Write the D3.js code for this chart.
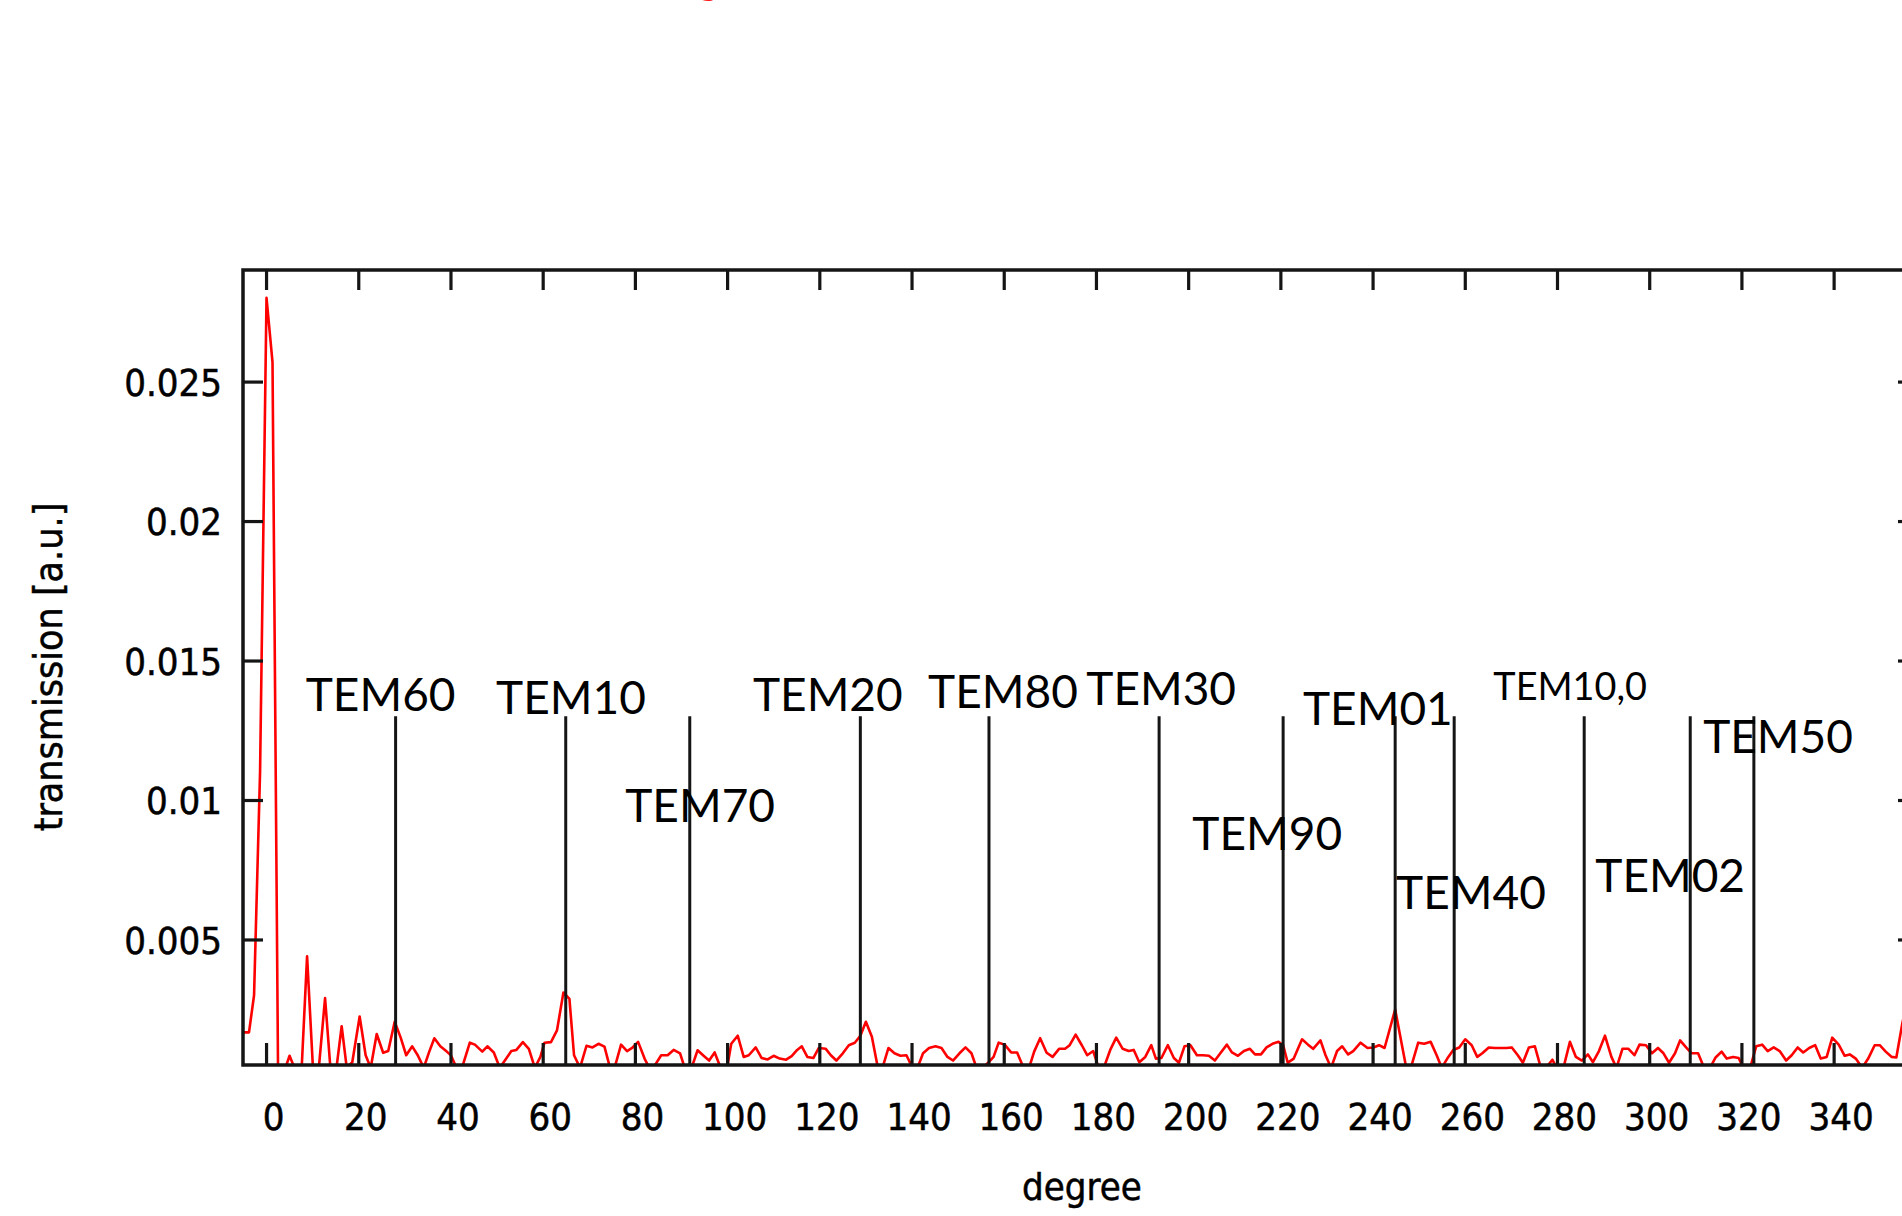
<!DOCTYPE html>
<html>
<head>
<meta charset="utf-8">
<script src="https://cdn.jsdelivr.net/npm/d3@7"></script>
<style>
    body { margin: 0; background: #fff; }
    svg { display: block; background: #fff; }
</style>
</head>
<body>
<svg width="1902" height="1216"></svg>
<script>
// transmission scan (degree, a.u.)
const degrees = [
    -5.0, -3.7, -2.6, -1.3, 0.1, 1.4, 2.6, 4.0, 5.1, 6.4, 7.7, 8.9, 10.2, 11.4, 12.8, 14.0, 15.2, 16.4, 17.5, 18.7,
    20.3, 21.6, 22.7, 24.0, 25.4, 26.5, 27.9, 29.2, 30.4, 31.7, 32.9, 34.2, 35.4, 36.5, 37.8, 39.2, 40.1, 41.3, 42.5, 44.2,
    45.3, 46.9, 48.0, 49.4, 50.7, 51.8, 53.2, 54.3, 55.7, 57.0, 58.3, 59.5, 60.4, 61.8, 63.1, 64.5, 65.8, 66.8, 68.1, 69.5,
    70.8, 72.1, 73.4, 74.6, 75.6, 77.0, 78.3, 79.4, 80.7, 82.1, 83.1, 84.0, 85.7, 87.1, 88.4, 89.8, 90.8, 92.3, 93.6, 94.9,
    96.1, 97.3, 98.6, 100.0, 100.9, 102.3, 103.6, 104.7, 106.2, 107.5, 108.8, 110.1, 111.4, 112.8, 114.0, 115.2, 116.2, 117.4, 118.7, 119.9,
    121.4, 122.5, 123.7, 125.1, 126.4, 127.7, 128.9, 130.1, 131.4, 132.7, 133.7, 135.0, 136.3, 137.6, 138.9, 140.2, 141.3, 142.5, 143.8, 145.2,
    146.5, 147.8, 149.0, 150.4, 151.7, 153.0, 154.1, 155.5, 156.6, 157.8, 158.9, 160.2, 161.6, 162.9, 164.3, 165.5, 166.6, 167.9, 169.3, 170.6,
    172.0, 173.3, 174.3, 175.6, 177.0, 178.1, 179.4, 180.6, 181.7, 183.1, 184.4, 185.8, 187.1, 188.2, 189.4, 190.7, 192.0, 193.0, 194.2, 195.6,
    196.9, 198.0, 199.2, 200.5, 201.9, 203.2, 204.5, 205.8, 207.1, 208.4, 209.5, 210.8, 212.1, 213.4, 214.5, 215.8, 217.0, 218.3, 219.6, 220.6,
    221.6, 222.9, 224.7, 226.0, 227.1, 228.7, 229.8, 231.0, 232.3, 233.4, 234.7, 235.8, 237.4, 238.9, 240.2, 241.4, 242.6, 244.9, 247.3, 248.3,
    249.9, 251.2, 252.6, 253.9, 255.0, 256.2, 257.5, 258.8, 260.1, 261.5, 262.7, 263.8, 265.2, 266.5, 267.8, 269.0, 270.2, 271.5, 272.6, 273.9,
    275.2, 276.5, 277.6, 279.0, 279.9, 281.4, 282.8, 284.1, 285.4, 286.7, 287.8, 289.1, 290.4, 291.8, 292.9, 294.2, 295.5, 296.8, 297.9, 299.3,
    300.6, 301.9, 303.1, 304.3, 305.6, 306.7, 308.0, 309.2, 310.6, 311.9, 313.2, 314.4, 315.7, 316.8, 318.2, 319.4, 320.4, 321.9, 323.2, 324.5,
    325.7, 327.0, 328.3, 329.7, 330.9, 332.2, 333.4, 334.7, 336.0, 337.2, 338.5, 339.7, 341.1, 342.4, 343.5, 344.8, 346.2, 347.5, 348.9, 350.0,
    351.3, 352.6, 353.6, 354.9, 356.2
];
const transmission = [
    0.00167, 0.00167, 0.00300, 0.01100, 0.02800, 0.02570, 0.00030, 0.00030, 0.00083, 0.00030, 0.00030, 0.00440, 0.00030, 0.00030, 0.00290, 0.00030, 0.00030, 0.00189, 0.00040, 0.00060,
    0.00224, 0.00085, 0.00040, 0.00161, 0.00094, 0.00100, 0.00205, 0.00148, 0.00085, 0.00117, 0.00085, 0.00040, 0.00098, 0.00146, 0.00117, 0.00098, 0.00085, 0.00040, 0.00040, 0.00130,
    0.00123, 0.00098, 0.00117, 0.00095, 0.00040, 0.00066, 0.00100, 0.00104, 0.00132, 0.00108, 0.00040, 0.00079, 0.00130, 0.00132, 0.00174, 0.00310, 0.00287, 0.00085, 0.00040, 0.00119,
    0.00113, 0.00126, 0.00116, 0.00040, 0.00040, 0.00123, 0.00100, 0.00111, 0.00133, 0.00073, 0.00040, 0.00040, 0.00085, 0.00085, 0.00104, 0.00092, 0.00040, 0.00040, 0.00103, 0.00083,
    0.00066, 0.00095, 0.00040, 0.00040, 0.00126, 0.00155, 0.00079, 0.00085, 0.00113, 0.00075, 0.00070, 0.00083, 0.00073, 0.00069, 0.00082, 0.00104, 0.00117, 0.00079, 0.00075, 0.00111,
    0.00108, 0.00085, 0.00066, 0.00092, 0.00121, 0.00130, 0.00155, 0.00205, 0.00151, 0.00040, 0.00040, 0.00111, 0.00092, 0.00083, 0.00085, 0.00040, 0.00040, 0.00092, 0.00111, 0.00117,
    0.00111, 0.00079, 0.00066, 0.00092, 0.00113, 0.00092, 0.00040, 0.00040, 0.00058, 0.00079, 0.00130, 0.00123, 0.00095, 0.00095, 0.00040, 0.00040, 0.00098, 0.00146, 0.00094, 0.00079,
    0.00108, 0.00108, 0.00121, 0.00159, 0.00119, 0.00085, 0.00100, 0.00040, 0.00040, 0.00104, 0.00148, 0.00108, 0.00100, 0.00104, 0.00060, 0.00079, 0.00121, 0.00073, 0.00075, 0.00121,
    0.00075, 0.00058, 0.00117, 0.00121, 0.00085, 0.00085, 0.00083, 0.00066, 0.00095, 0.00123, 0.00095, 0.00083, 0.00100, 0.00108, 0.00088, 0.00088, 0.00113, 0.00126, 0.00133, 0.00121,
    0.00058, 0.00073, 0.00142, 0.00123, 0.00108, 0.00138, 0.00085, 0.00040, 0.00100, 0.00117, 0.00088, 0.00100, 0.00130, 0.00111, 0.00113, 0.00121, 0.00111, 0.00249, 0.00040, 0.00040,
    0.00130, 0.00126, 0.00133, 0.00085, 0.00040, 0.00073, 0.00104, 0.00113, 0.00142, 0.00121, 0.00079, 0.00092, 0.00113, 0.00111, 0.00111, 0.00111, 0.00113, 0.00085, 0.00058, 0.00113,
    0.00117, 0.00040, 0.00040, 0.00069, 0.00040, 0.00040, 0.00133, 0.00079, 0.00066, 0.00088, 0.00060, 0.00100, 0.00155, 0.00079, 0.00040, 0.00108, 0.00108, 0.00085, 0.00123, 0.00121,
    0.00092, 0.00111, 0.00092, 0.00058, 0.00092, 0.00138, 0.00113, 0.00092, 0.00092, 0.00040, 0.00040, 0.00077, 0.00098, 0.00073, 0.00079, 0.00075, 0.00040, 0.00040, 0.00117, 0.00123,
    0.00100, 0.00113, 0.00100, 0.00066, 0.00085, 0.00113, 0.00095, 0.00111, 0.00121, 0.00073, 0.00079, 0.00148, 0.00123, 0.00083, 0.00088, 0.00073, 0.00040, 0.00073, 0.00121, 0.00121,
    0.00098, 0.00079, 0.00077, 0.00199, 0.00300
];

// mode markers (vertical lines) and their labels
const modeDegrees = [28.1, 65.0, 91.9, 128.9, 156.8, 193.7, 220.6, 244.9, 257.7, 285.9, 308.9, 322.7];
const markerTop = 0.013;
const modeNames = ["TEM60", "TEM10", "TEM70", "TEM20", "TEM80", "TEM30", "TEM90", "TEM01", "TEM40", "TEM10,0", "TEM02", "TEM50"];
const labelDegrees = [8.6, 49.9, 77.9, 105.6, 143.6, 177.9, 200.9, 224.9, 245.1, 266.2, 288.3, 311.7];
const labelValues = [0.0132, 0.0131, 0.0092, 0.0132, 0.0133, 0.0134, 0.0082, 0.0127, 0.0061, 0.0136, 0.0067, 0.0117];

// axes
const xTicks = [0, 20, 40, 60, 80, 100, 120, 140, 160, 180, 200, 220, 240, 260, 280, 300, 320, 340, 360];
const yTicks = [0.005, 0.01, 0.015, 0.02, 0.025];
const yTickLabels = ["0.005", "0.01", "0.015", "0.02", "0.025"];

let svg = d3.select("svg");
const ink = "#151515";
const plot = {left: 243, right: 1918, top: 270, bottom: 1065};
const axisFont = "DejaVu Sans Condensed";

let x = d3.scaleLinear().domain([-5, 358.3]).range([plot.left, plot.right]);
let y = d3.scaleLinear().domain([0.0005, 0.029]).range([plot.bottom, plot.top]);

svg.append("defs").append("clipPath")
    .attr("id", "plotArea")
    .append("rect")
    .attr("x", plot.left)
    .attr("y", plot.top)
    .attr("width", plot.right - plot.left)
    .attr("height", plot.bottom - plot.top);

// cut-off title at the very top of the scan
svg.append("text")
    .attr("x", 698)
    .attr("y", -6)
    .attr("font-family", "Lato")
    .attr("font-size", 40)
    .attr("fill", "#ff2020")
    .text("g");

// data line
let line = d3.line()
    .x(d => x(d[0]))
    .y(d => y(d[1]));

svg.append("path")
    .datum(d3.zip(degrees, transmission))
    .attr("clip-path", "url(#plotArea)")
    .attr("fill", "none")
    .attr("stroke", "#ff0000")
    .attr("stroke-width", 2.6)
    .attr("stroke-linejoin", "round")
    .attr("d", line);

// mode markers
svg.append("g")
    .selectAll("line")
    .data(modeDegrees)
    .enter().append("line")
    .attr("x1", d => x(d))
    .attr("x2", d => x(d))
    .attr("y1", y(y.domain()[0]))
    .attr("y2", y(markerTop))
    .attr("stroke", ink)
    .attr("stroke-width", 3);

//////////// AXES ////////////

function styleTicks(g) {
    g.select(".domain").remove();
    g.selectAll(".tick line").attr("stroke", ink).attr("stroke-width", 3.2);
}

function styleLabels(sel) {
    sel.attr("font-family", axisFont)
        .attr("font-size", 38)
        .attr("fill", "#000")
        .attr("stroke", "#000")
        .attr("stroke-width", 0.5);
}

let gx = svg.append("g")
    .attr("transform", `translate(0,${plot.bottom})`)
    .call(d3.axisBottom(x).tickValues(xTicks).tickSizeInner(-22).tickSizeOuter(0).tickFormat(d3.format("d")))
    .call(styleTicks);
gx.selectAll(".tick text")
    .call(styleLabels)
    .attr("x", 7)
    .attr("y", 65)
    .attr("dy", null);

svg.append("g")
    .attr("transform", `translate(0,${plot.top})`)
    .call(d3.axisTop(x).tickValues(xTicks).tickSizeInner(-20).tickSizeOuter(0).tickFormat(""))
    .call(styleTicks);

let gy = svg.append("g")
    .attr("transform", `translate(${plot.left},0)`)
    .call(d3.axisLeft(y).tickValues(yTicks).tickSizeInner(-20).tickSizeOuter(0).tickFormat((d, i) => yTickLabels[i]))
    .call(styleTicks);
gy.selectAll(".tick text")
    .call(styleLabels)
    .attr("x", -21)
    .attr("dy", "0.36em");

svg.append("g")
    .attr("transform", `translate(${plot.right},0)`)
    .call(d3.axisRight(y).tickValues(yTicks).tickSizeInner(-20).tickSizeOuter(0).tickFormat(""))
    .call(styleTicks);

// plot border
svg.append("rect")
    .attr("x", plot.left)
    .attr("y", plot.top)
    .attr("width", plot.right - plot.left)
    .attr("height", plot.bottom - plot.top)
    .attr("fill", "none")
    .attr("stroke", ink)
    .attr("stroke-width", 3.5);

// axis titles
svg.append("text")
    .attr("x", 1082)
    .attr("y", 1200)
    .attr("text-anchor", "middle")
    .call(styleLabels)
    .text("degree");

svg.append("text")
    .attr("transform", "translate(62,667) rotate(-90)")
    .attr("text-anchor", "middle")
    .call(styleLabels)
    .attr("font-size", 39)
    .text("transmission [a.u.]");

// mode labels
svg.append("g")
    .selectAll("text")
    .data(modeNames)
    .enter().append("text")
    .attr("x", (d, i) => x(labelDegrees[i]))
    .attr("y", (d, i) => y(labelValues[i]))
    .attr("font-family", "Lato")
    .attr("font-size", d => d === "TEM10,0" ? 37.8 : 46)
    .attr("fill", "#000")
    .text(d => d);
</script>
</body>
</html>
